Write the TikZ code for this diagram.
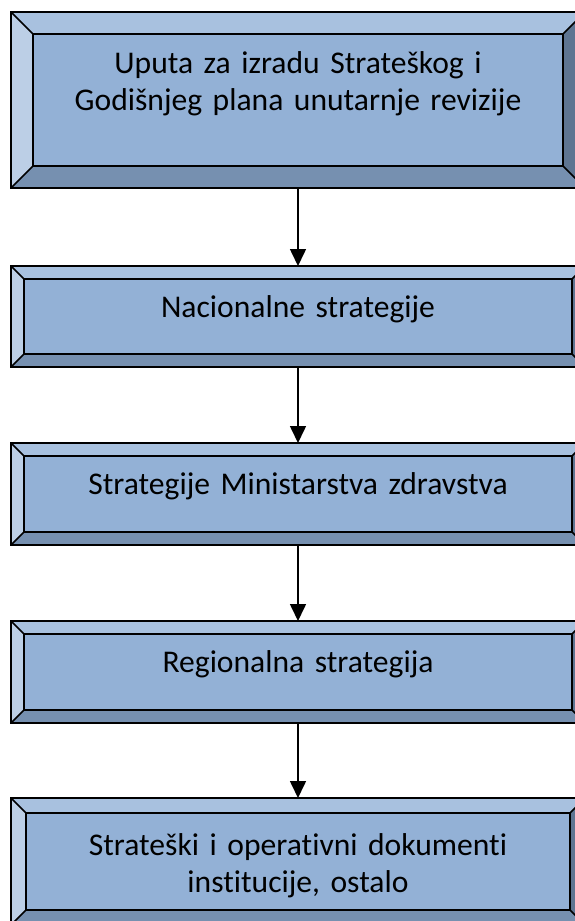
\documentclass[tikz,border=0pt]{standalone}
\usepackage{fontspec}
\setmainfont{Carlito}[Ligatures=NoCommon, WordSpace=0.9]
\usetikzlibrary{arrows.meta,calc}

\definecolor{faceC}{HTML}{93B1D6}
\definecolor{topC}{HTML}{A8C1DF}
\definecolor{leftC}{HTML}{BCCFE6}
\definecolor{bottomC}{HTML}{7690B0}
\definecolor{rightC}{HTML}{5E7592}

\tikzset{
  frame/.style={rectangle, draw=none, inner sep=0pt, outer sep=0pt, minimum width=574pt},
  edge/.style={draw=black, line width=1.5pt},
  label text/.style={font=\fontsize{31.6}{37}\selectfont, text width=540pt, align=center, anchor=base, inner sep=0pt},
  flow/.style={draw=black, line width=1.6pt, -{Triangle[width=16pt,length=17pt]}},
}

% bevelled box: name, top y, bottom y, bevel width (all in pt, y grows downwards)
\newcommand\bevelbox[4]{%
  \node[frame, minimum height={(#3-#2)*1pt}] (#1) at (298,{-(#2+#3)/2}) {};
  \coordinate (#1-inw) at ($(#1.north west)+(#4,-#4)$);
  \coordinate (#1-ine) at ($(#1.north east)+(-#4,-#4)$);
  \coordinate (#1-ise) at ($(#1.south east)+(-#4,#4)$);
  \coordinate (#1-isw) at ($(#1.south west)+(#4,#4)$);
  \fill[topC] (#1.north west) -- (#1.north east) -- (#1-ine) -- (#1-inw) -- cycle;
  \fill[leftC] (#1.north west) -- (#1-inw) -- (#1-isw) -- (#1.south west) -- cycle;
  \fill[bottomC] (#1.south west) -- (#1-isw) -- (#1-ise) -- (#1.south east) -- cycle;
  \fill[rightC] (#1.north east) -- (#1.south east) -- (#1-ise) -- (#1-ine) -- cycle;
  \fill[faceC] (#1-inw) rectangle (#1-ise);
  \draw[edge] (#1-inw) rectangle (#1-ise);
  \draw[edge] (#1.north west) -- (#1-inw) (#1.north east) -- (#1-ine)
              (#1.south east) -- (#1-ise) (#1.south west) -- (#1-isw);
  \draw[edge] (#1.north west) rectangle (#1.south east);
}

\begin{document}
\begin{tikzpicture}[x=1pt,y=1pt]
  \useasboundingbox (0,0) rectangle (575,-921);
  \clip (0,0) rectangle (575,-921);
  \fill[white] (0,0) rectangle (575,-921);

  \bevelbox{b1}{12}{188}{22}
  \bevelbox{b2}{266}{367}{13}
  \bevelbox{b3}{443}{545}{13}
  \bevelbox{b4}{621}{723}{13}
  \bevelbox{b5}{798}{925}{15}

  \node[label text] (t1) at (298,-73) {Uputa za izradu Strateškog i\\Godišnjeg plana unutarnje revizije};
  \node[label text] (t2) at (298,-317) {Nacionalne strategije};
  \node[label text] (t3) at (298,-494) {Strategije Ministarstva zdravstva};
  \node[label text] (t4) at (298,-672) {Regionalna strategija};
  \node[label text] (t5) at (298,-855) {Strateški i operativni dokumenti\\institucije, ostalo};

  \draw[flow] (b1.south) -- (b2.north);
  \draw[flow] (b2.south) -- (b3.north);
  \draw[flow] (b3.south) -- (b4.north);
  \draw[flow] (b4.south) -- (b5.north);
\end{tikzpicture}
\end{document}
